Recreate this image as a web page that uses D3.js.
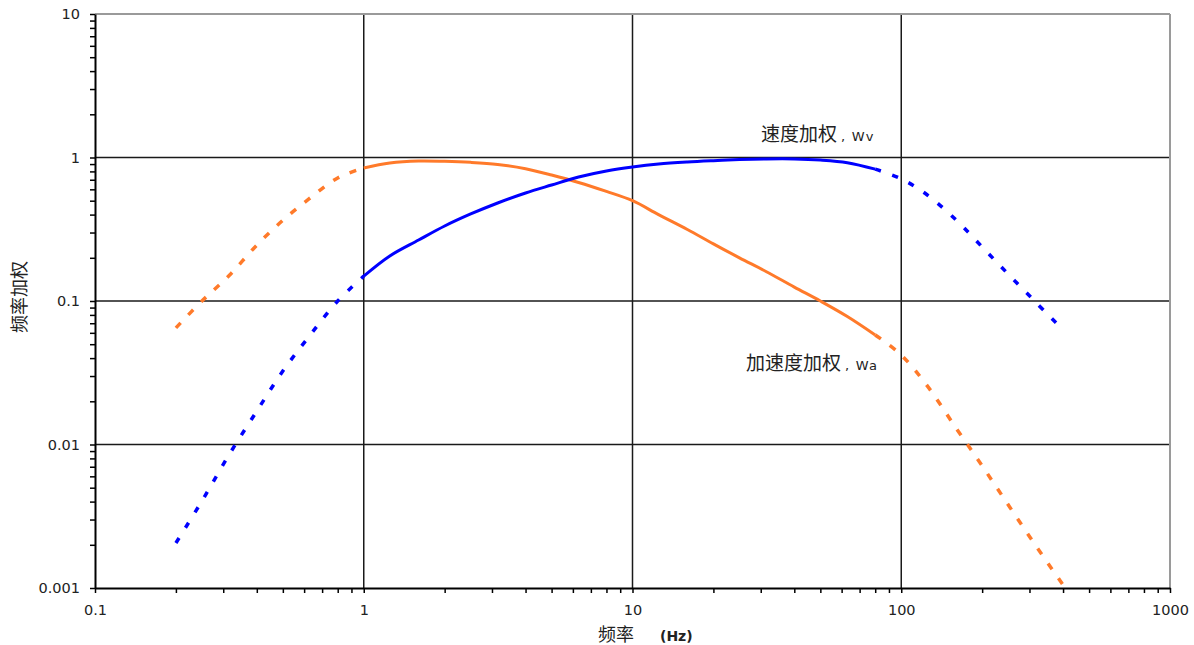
<!DOCTYPE html>
<html><head><meta charset="utf-8">
<script src="https://cdn.jsdelivr.net/npm/d3@7"></script>
<style>body{margin:0;background:#fff}</style>
</head><body>
<svg id="c" width="1194" height="645"></svg>
<script>
const freqs = [0.2,0.25,0.315,0.4,0.5,0.63,0.8,1,1.25,1.6,2,2.5,3.15,4,5,6.3,8,10,12.5,16,20,25,31.5,40,50,63,80,100,125,160,200,250,315,400];
const wa = [0.065,0.1,0.15,0.245,0.365,0.52,0.72,0.845,0.915,0.945,0.94,0.925,0.895,0.835,0.755,0.67,0.58,0.5,0.4,0.315,0.25,0.2,0.16,0.125,0.1,0.078,0.058,0.042,0.0256,0.013,0.0071,0.0038,0.002,0.00105];
const wv = [0.00206,0.00404,0.00845,0.0171,0.0325,0.0575,0.1,0.149,0.206,0.266,0.333,0.404,0.482,0.566,0.643,0.731,0.805,0.858,0.9,0.93,0.95,0.967,0.977,0.977,0.96,0.92,0.83,0.71,0.548,0.367,0.238,0.154,0.099,0.0628];
const xTickLabels = ["0.1","1","10","100","1000"];
const yTickLabels = ["0.001","0.01","0.1","1","10"];
const solidRange = [1, 80];

const svg = d3.select("#c");
const L=95, R=1170, T=14, B=588;
const x = d3.scaleLog().domain([0.1,1000]).range([L,R]);
const y = d3.scaleLog().domain([0.001,10]).range([B,T]);
const numFont = "'DejaVu Sans', Verdana, sans-serif";
const cjk = "'Noto Sans CJK SC', sans-serif";

const xMinor=[], yMinor=[];
for (let e=-1;e<3;e++) for (let m=1;m<10;m++) xMinor.push(m*Math.pow(10,e));
xMinor.push(1000);
for (let e=-3;e<1;e++) for (let m=1;m<10;m++) yMinor.push(m*Math.pow(10,e));
yMinor.push(10);
const xMajor = xTickLabels.map(Number), yMajor = yTickLabels.map(Number);
const idx = (arr,d) => arr.findIndex(v=>Math.abs(v-d)/v<1e-9);

const g = svg.append("g");
g.selectAll(".vg").data(xMajor.slice(1,-1)).join("line")
  .attr("x1",d=>x(d)).attr("x2",d=>x(d)).attr("y1",T).attr("y2",B)
  .attr("stroke","#1a1a1a").attr("stroke-width",1.5);
g.selectAll(".hg").data(yMajor.slice(1,-1)).join("line")
  .attr("y1",d=>y(d)).attr("y2",d=>y(d)).attr("x1",L).attr("x2",R)
  .attr("stroke","#1a1a1a").attr("stroke-width",1.5);
g.append("line").attr("x1",L).attr("x2",R).attr("y1",T).attr("y2",T).attr("stroke","#9a9a9a").attr("stroke-width",2);
g.append("line").attr("x1",R).attr("x2",R).attr("y1",T).attr("y2",B).attr("stroke","#9a9a9a").attr("stroke-width",2);

const xAxis = d3.axisBottom(x).tickValues(xMinor).tickSize(5).tickSizeOuter(0).tickPadding(12)
  .tickFormat(d => idx(xMajor,d)>=0 ? xTickLabels[idx(xMajor,d)] : "");
const yAxis = d3.axisLeft(y).tickValues(yMinor).tickSize(5).tickSizeOuter(0).tickPadding(10)
  .tickFormat(d => idx(yMajor,d)>=0 ? yTickLabels[idx(yMajor,d)] : "");
const gx = svg.append("g").attr("transform",`translate(0,${B})`).call(xAxis);
const gy = svg.append("g").attr("transform",`translate(${L},0)`).call(yAxis);
[gx,gy].forEach(a=>{
  a.select(".domain").attr("stroke","#000").attr("stroke-width",2);
  a.selectAll(".tick line").attr("stroke","#000").attr("stroke-width",1.5);
  a.selectAll(".tick text").attr("font-family",numFont).attr("font-size",14.5).attr("fill","#222");
});

const pts = arr => freqs.map((f,i)=>({f, v:arr[i]}));
const line = d3.line().x(d=>x(d.f)).y(d=>y(d.v)).curve(d3.curveCatmullRom.alpha(0.5));
function drawSeries(arr,color,dash){
  const p = pts(arr);
  const lo = p.filter(d=>d.f<=solidRange[0]);
  const mid = p.filter(d=>d.f>=solidRange[0] && d.f<=solidRange[1]);
  const hi = p.filter(d=>d.f>=solidRange[1]);
  svg.append("path").attr("d",line(mid)).attr("fill","none").attr("stroke",color).attr("stroke-width",3);
  [lo,hi].forEach(s=>svg.append("path").attr("d",line(s)).attr("fill","none").attr("stroke",color)
    .attr("stroke-width",3.5).attr("stroke-dasharray",dash));
}
drawSeries(wa,"#ff7a2a","7,11");
drawSeries(wv,"#0000ff","6,12");

function annot(xp, yp, cn, latin){
  const t = svg.append("text").attr("x",xp).attr("y",yp).attr("fill","#222");
  t.append("tspan").attr("font-family",cjk).attr("font-size",19).text(cn);
  t.append("tspan").attr("font-family",numFont).attr("font-size",13).attr("letter-spacing",1.2).attr("dx",4).text(latin);
}
annot(761, 141, "速度加权", ", Wv");
annot(746, 370, "加速度加权", ", Wa");

const xt = svg.append("text").attr("x",598).attr("y",641).attr("fill","#222");
xt.append("tspan").attr("font-family",cjk).attr("font-size",18).text("频率");
xt.append("tspan").attr("font-family",numFont).attr("font-size",14).attr("font-weight","bold").attr("dx",26).text("(Hz)");
svg.append("text").attr("transform","translate(26,297) rotate(-90)").attr("text-anchor","middle")
  .attr("font-family",cjk).attr("font-size",18).attr("fill","#222").text("频率加权");
</script>
</body></html>
